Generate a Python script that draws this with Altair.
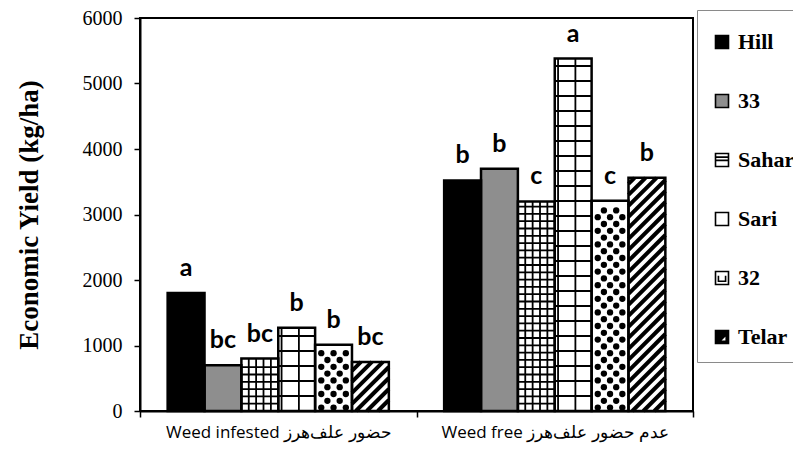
import altair as alt
import pandas as pd

# ---------------- data ----------------
groups = ["Weed infested حضور علف\u200cهرز", "Weed free عدم حضور علف\u200cهرز"]
varieties = ["Hill", "33", "Sahar", "Sari", "32", "Telar"]
yield_infested = [1800, 700, 800, 1270, 1010, 750]
yield_free = [3520, 3700, 3200, 5380, 3210, 3560]
letters_infested = ["a", "bc", "bc", "b", "b", "bc"]
letters_free = ["b", "b", "c", "a", "c", "b"]
y_ticks = [0, 1000, 2000, 3000, 4000, 5000, 6000]

# ---------------- layout / style ----------------
W, H = 553, 393
YMAX = 6000
GAP = 0.1
BW = (1 - 2 * GAP) / len(varieties)
PX_X = 2 / W          # x data units per pixel
PX_Y = YMAX / H       # y data units per pixel

bar_fills = ["black", "#8e8e8e", "white", "white", "white", "white"]
legend_fills = ["black", "#8e8e8e", "white", "white", "white", "black"]
SQ = "M-1,-1H1V1H-1Z"
legend_paths = [
    SQ,
    SQ,
    SQ + "M-1,0.05H1M-1,-0.45H1",
    SQ,
    SQ + "M-0.55,-0.35V0.5H0.55V-0.35",
    SQ + "M0.65,-0.35L-0.35,0.65L0.65,0.65Z",
]

rows = []
for gi, (vals, lets) in enumerate([(yield_infested, letters_infested),
                                   (yield_free, letters_free)]):
    for vi, (v, l) in enumerate(zip(vals, lets)):
        x0 = gi + GAP + vi * BW
        rows.append(dict(group=groups[gi], variety=varieties[vi], value=v, letter=l,
                         x0=x0, x1=x0 + BW, xc=x0 + BW / 2, half=v / 2, zero=0))
bars = pd.DataFrame(rows)

# pattern geometry derived from the bars
hl, vl, stripes, dots = [], [], [], []
for r in rows:
    v, x0 = r["value"], r["x0"]
    if r["variety"] in ("Sahar", "Sari"):
        if r["variety"] == "Sahar":
            step, fracs = 7.3 * PX_Y, [0.2, 0.4, 0.6, 0.8]
        else:
            step, fracs = 15 * PX_Y, [0.09, 0.56]
        k = 1
        while k * step < v - 2 * PX_Y:
            hl.append(dict(x=x0, x2=x0 + BW, y=k * step))
            k += 1
        for f in fracs:
            vl.append(dict(x=x0 + f * BW, y=0, y2=v))
    elif r["variety"] == "Telar":
        D = BW / PX_X * PX_Y
        period = 11 * PX_Y
        y0 = -D
        while y0 < v:
            ta = max(0.0, (0 - y0) / D)
            tb = min(1.0, (v - y0) / D)
            if tb > ta:
                stripes.append(dict(x=x0 + ta * BW, x2=x0 + tb * BW,
                                    y=y0 + ta * D, y2=y0 + tb * D))
            y0 += period
    elif r["variety"] == "32":
        row_h = 6.8 * PX_Y
        k = 0
        while (k + 0.5) * row_h + 3.5 * PX_Y < v:
            fr = [1 / 6, 0.5, 5 / 6] if k % 2 == 0 else [1 / 3, 2 / 3]
            for f in fr:
                dots.append(dict(x=x0 + f * BW, y=(k + 0.5) * row_h))
            k += 1

hl, vl, stripes, dots = map(pd.DataFrame, (hl, vl, stripes, dots))

# ---------------- scales / axes ----------------
xscale = alt.Scale(domain=[0, 2], nice=False, zero=False)
yscale = alt.Scale(domain=[0, YMAX], nice=False)

label_expr = (f"datum.value == 0.5 ? '{groups[0]}' : "
              f"datum.value == 1.5 ? '{groups[1]}' : ''")
xaxis = alt.Axis(values=[0, 0.5, 1, 1.5, 2], labelExpr=label_expr, title=None, grid=False,
                 tickSize=6, tickWidth=1.5,
                 tickColor={"condition": {"test": "datum.value % 1 != 0", "value": "transparent"},
                            "value": "black"},
                 domainColor="black", domainWidth=2, labelFlush=False, labelOverlap=False,
                 labelLimit=400,
                 labelFont="Open Sans", labelFontSize=17, labelColor="black", labelPadding=7)
yaxis = alt.Axis(values=y_ticks, format="d", title="Economic Yield (kg/ha)", grid=False,
                 tickSize=6, tickWidth=1.5, tickColor="black", domainColor="black", domainWidth=2,
                 labelFont="Liberation Serif", labelFontSize=20, labelColor="black",
                 labelPadding=12, labelFlush=False,
                 titleFont="Liberation Serif", titleFontSize=27, titleFontWeight="bold",
                 titleColor="black", titleX=-111, titleY=H / 2, titleAngle=270,
                 titleBaseline="middle", titleAlign="center")

legend = alt.Legend(orient="none", legendX=557, legendY=-8, title=" ", titleFontSize=4,
                    titlePadding=3,
                    labelFont="Liberation Serif", labelFontWeight="bold", labelFontSize=22,
                    labelColor="black", labelOffset=5, symbolSize=169,
                    symbolStrokeColor="black", symbolStrokeWidth=1.6, rowPadding=37,
                    padding=14, strokeColor="#8a8a8a", fillColor="white")

# ---------------- layers ----------------
def X(field):
    return alt.X(field, scale=xscale, axis=xaxis)


def Y(field):
    return alt.Y(field, scale=yscale, axis=yaxis)


legend_layer = alt.Chart(bars).mark_point(filled=True, size=169, opacity=1,
                                          strokeWidth=1.6).encode(
    x=X("xc:Q"), y=Y("half:Q"),
    fill=alt.Fill("variety:N", scale=alt.Scale(domain=varieties, range=legend_fills), legend=legend),
    shape=alt.Shape("variety:N", scale=alt.Scale(domain=varieties, range=legend_paths), legend=legend),
    stroke=alt.Stroke("variety:N", scale=alt.Scale(domain=varieties, range=["black"] * 6),
                      legend=legend),
)

bar_layer = alt.Chart(bars).mark_rect(strokeWidth=0).encode(
    x=X("x0:Q"), x2="x1:Q", y=Y("value:Q"), y2="zero:Q",
    color=alt.Color("variety:N", scale=alt.Scale(domain=varieties, range=bar_fills), legend=None),
)

hl_layer = alt.Chart(hl).mark_rule(color="black", strokeWidth=1.8).encode(
    x=X("x:Q"), x2="x2:Q", y=Y("y:Q"),
)
vl_layer = alt.Chart(vl).mark_rule(color="black", strokeWidth=1.8).encode(
    x=X("x:Q"), y=Y("y:Q"), y2="y2:Q",
)
stripe_layer = alt.Chart(stripes).mark_rule(color="black", strokeWidth=4, strokeCap="butt").encode(
    x=X("x:Q"), x2="x2:Q", y=Y("y:Q"), y2="y2:Q",
)
dot_layer = alt.Chart(dots).mark_point(filled=True, shape="circle", size=40, color="black",
                                       opacity=1).encode(
    x=X("x:Q"), y=Y("y:Q"),
)
outline_layer = alt.Chart(bars).mark_rect(filled=False, color="black", strokeWidth=2.5).encode(
    x=X("x0:Q"), x2="x1:Q", y=Y("value:Q"), y2="zero:Q",
)
text_layer = alt.Chart(bars).mark_text(font="Lato", fontWeight="bold", fontSize=25,
                                       color="black", baseline="alphabetic", dy=-17).encode(
    x=X("xc:Q"), y=Y("value:Q"), text="letter:N",
)

chart = alt.layer(legend_layer, bar_layer, hl_layer, vl_layer, stripe_layer, dot_layer,
                  outline_layer, text_layer).properties(
    width=W, height=H, background="white",
    padding={"left": 132, "top": 10, "right": 100, "bottom": 33},
    autosize=alt.AutoSizeParams(type="none"),
).configure_view(stroke="black", strokeWidth=2)

chart.save("out.html", embed_options={"renderer": "svg", "actions": False})
